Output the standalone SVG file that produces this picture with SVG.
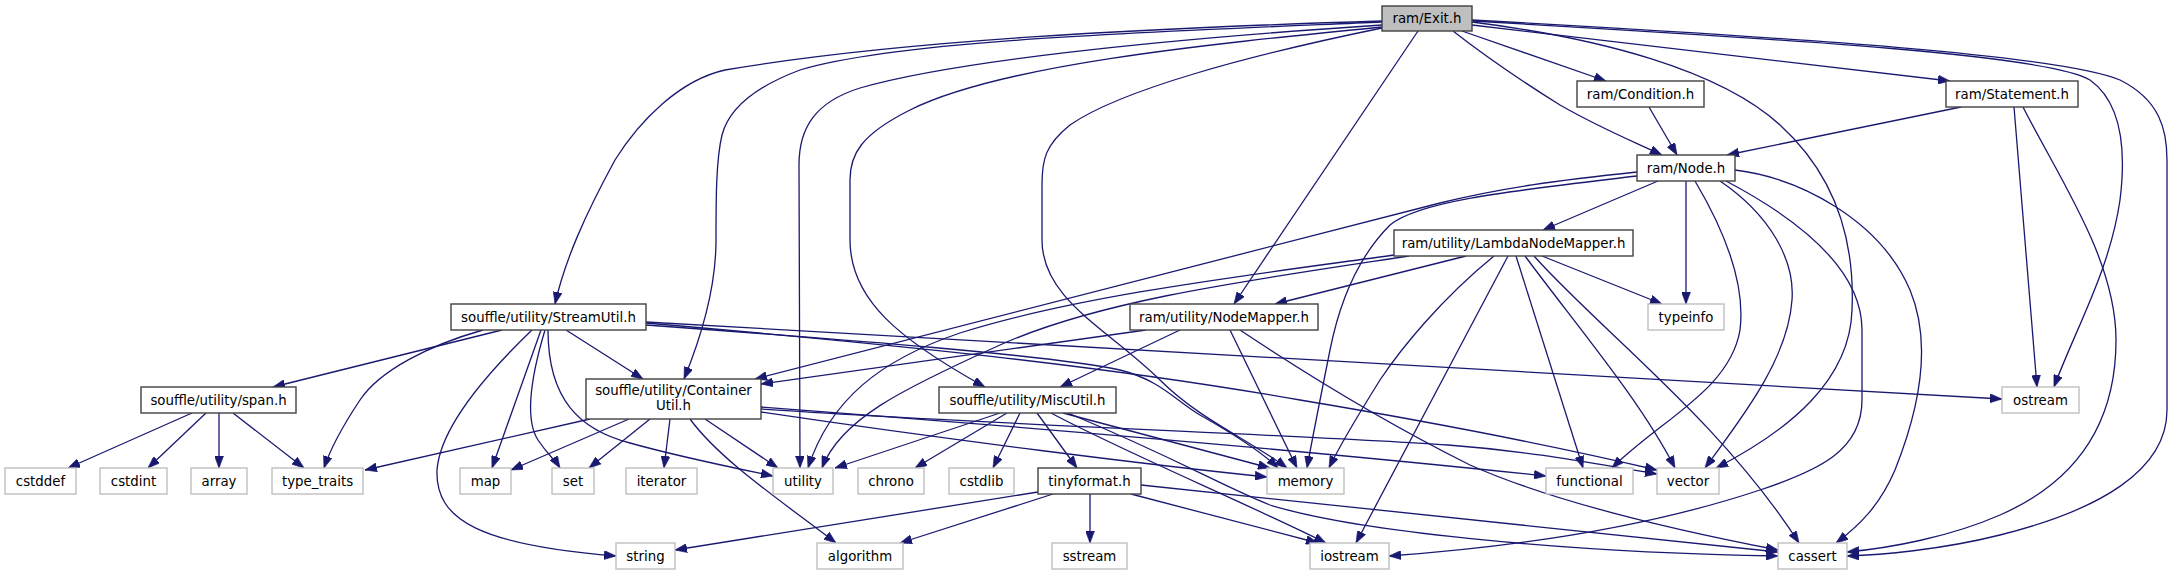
<svg xmlns="http://www.w3.org/2000/svg" width="2173" height="575" viewBox="0 0 2173 575">
<defs>
<marker id="ah" markerWidth="12" markerHeight="9" refX="12" refY="4.5" orient="auto" markerUnits="userSpaceOnUse"><path d="M0,0 L12,4.5 L0,9 z" fill="#191970" stroke="#191970" stroke-width="0.6"/></marker>
<style>
.e path{fill:none;stroke:#191970;stroke-width:1.3;marker-end:url(#ah)}
.n rect{fill:#fff;stroke:#404040;stroke-width:1.4}
.x rect{fill:#fff;stroke:#bfbfbf;stroke-width:1.4}
.cur rect{fill:#bfbfbf;stroke:#404040;stroke-width:1.4}
text{font-family:"DejaVu Sans","Liberation Sans",sans-serif;font-size:13.33px;fill:#000;text-anchor:middle}
</style>
</defs>
<rect width="2173" height="575" fill="#fff"/>
<g id="edges" class="e">
<!-- Exit.h -->
<path d="M1382,21 C1150,28 900,40 725,70 C680,80 640,120 615,160 C585,215 565,260 555,304"/>
<path d="M1382,22 C1150,32 900,40 800,70 C760,85 730,105 722,135 C716,160 716,200 716,240 C716,290 700,340 684,379"/>
<path d="M1382,25 C1150,40 950,62 860,88 C815,102 799,128 799,165 L800,468"/>
<path d="M1382,27 C1200,45 1000,65 910,110 C860,135 850,155 850,180 L850,240 C850,300 900,340 985,387"/>
<path d="M1382,28 C1250,55 1120,90 1070,125 C1045,145 1042,160 1042,185 L1042,240 C1042,300 1110,330 1160,380 C1200,420 1250,440 1287,468"/>
<path d="M1418,31 L1234,304"/>
<path d="M1453,31 C1490,60 1520,80 1560,105 C1600,128 1630,140 1662,155"/>
<path d="M1462,31 L1606,81"/>
<path d="M1472,25 L1950,81"/>
<path d="M1472,22 C1600,38 1720,70 1780,125 C1835,175 1855,240 1852,310 C1850,380 1790,430 1716,468"/>
<path d="M1472,21 C1800,40 2050,55 2090,80 C2125,105 2125,160 2120,200 C2110,270 2075,330 2054,387"/>
<path d="M1472,20 C1800,38 2060,55 2120,80 C2160,100 2167,130 2167,160 L2167,410 C2167,470 2100,510 2000,535 C1940,550 1880,555 1847,556"/>
<!-- Statement.h -->
<path d="M1961,107 L1727,155"/>
<path d="M2014,107 L2037,387"/>
<path d="M2023,107 C2060,180 2116,260 2116,340 C2116,420 2080,480 2000,515 C1950,537 1890,548 1847,552"/>
<!-- Condition.h -->
<path d="M1649,107 L1677,155"/>
<!-- Node.h -->
<path d="M1658,181 L1543,230"/>
<path d="M1686,181 L1686,304"/>
<path d="M1695,181 C1730,240 1745,290 1740,330 C1730,390 1660,420 1612,468"/>
<path d="M1720,181 C1770,215 1795,260 1792,300 C1788,360 1740,420 1705,468"/>
<path d="M1726,181 C1800,220 1862,270 1862,330 L1862,400 C1862,450 1820,470 1760,490 C1640,530 1500,548 1389,556"/>
<path d="M1735,170 C1800,178 1880,220 1910,290 C1935,350 1915,420 1895,470 C1880,505 1860,525 1836,543"/>
<path d="M1637,172 C1560,180 1500,188 1440,203 L755,379"/>
<path d="M1637,176 C1520,190 1420,200 1390,225 C1360,255 1340,300 1330,350 C1320,400 1312,440 1307,468"/>
<!-- LambdaNodeMapper.h -->
<path d="M1466,256 L1275,304"/>
<path d="M1542,256 L1662,304"/>
<path d="M1516,256 L1583,468"/>
<path d="M1525,256 C1580,330 1640,400 1675,468"/>
<path d="M1534,256 C1600,330 1720,420 1799,543"/>
<path d="M1508,256 L1356,543"/>
<path d="M1494,256 C1440,300 1400,350 1380,380 C1355,420 1340,445 1329,468"/>
<path d="M1409,256 C1250,280 1100,300 1000,345 C900,390 840,420 822,468"/>
<path d="M1394,255 C1250,275 1080,295 960,333 C880,360 830,400 808,468"/>
<!-- NodeMapper.h -->
<path d="M1146,330 L761,384"/>
<path d="M1180,330 L1060,387"/>
<path d="M1230,330 L1297,468"/>
<path d="M1240,330 C1330,390 1400,430 1470,465 C1560,505 1700,535 1778,550"/>
<!-- StreamUtil.h -->
<path d="M502,330 L273,387"/>
<path d="M483,330 C430,345 380,370 360,400 C340,430 330,450 324,468"/>
<path d="M532,330 C480,380 440,430 437,470 C435,520 480,545 616,556"/>
<path d="M541,330 L492,468"/>
<path d="M545,330 C530,380 525,420 538,440 C548,455 555,460 560,468"/>
<path d="M548,330 C548,400 580,430 630,443 C680,457 730,467 773,476"/>
<path d="M566,330 L643,379"/>
<path d="M646,325 C850,340 1050,355 1120,370 C1160,380 1175,400 1200,415 C1230,432 1260,450 1278,468"/>
<path d="M646,322 L2002,399"/>
<path d="M646,323 C900,345 1100,365 1300,400 C1450,425 1580,452 1657,470"/>
<!-- span.h -->
<path d="M192,413 L68,468"/>
<path d="M206,413 L148,468"/>
<path d="M219,413 L219,468"/>
<path d="M233,413 L304,468"/>
<!-- ContainerUtil.h -->
<path d="M590,419 L365,470"/>
<path d="M629,419 L511,470"/>
<path d="M650,419 L589,468"/>
<path d="M670,419 L664,468"/>
<path d="M705,419 L778,468"/>
<path d="M690,419 C720,460 780,500 836,543"/>
<path d="M761,412 C950,440 1150,465 1267,477"/>
<path d="M761,407 C1000,425 1300,450 1546,476"/>
<path d="M761,409 C1000,425 1300,435 1448,445 C1540,452 1600,465 1657,474"/>
<!-- MiscUtil.h -->
<path d="M1000,413 L835,468"/>
<path d="M1007,413 L915,468"/>
<path d="M1020,413 L993,468"/>
<path d="M1037,413 L1077,468"/>
<path d="M1051,413 C1120,450 1250,505 1326,543"/>
<path d="M1063,413 L1270,468"/>
<path d="M1068,413 C1180,460 1220,485 1270,505 C1350,530 1550,552 1778,556"/>
<!-- tinyformat.h -->
<path d="M1038,492 L675,550"/>
<path d="M1053,494 L900,543"/>
<path d="M1090,494 L1090,543"/>
<path d="M1131,494 L1318,543"/>
<path d="M1141,485 L1778,552"/>
</g>
<g id="node-exit" class="cur"><rect x="1382" y="6" width="90" height="25"/><text x="1427" y="23">ram/Exit.h</text></g>
<g id="node-condition" class="n"><rect x="1577" y="81" width="127" height="26"/><text x="1640.5" y="98.5">ram/Condition.h</text></g>
<g id="node-statement" class="n"><rect x="1946" y="81" width="132" height="26"/><text x="2012" y="98.5">ram/Statement.h</text></g>
<g id="node-node" class="n"><rect x="1637" y="155" width="98" height="26"/><text x="1686" y="172.5">ram/Node.h</text></g>
<g id="node-lambda" class="n"><rect x="1394" y="230" width="239" height="26"/><text x="1513.5" y="247.5">ram/utility/LambdaNodeMapper.h</text></g>
<g id="node-streamutil" class="n"><rect x="451" y="304" width="195" height="26"/><text x="548.5" y="321.5">souffle/utility/StreamUtil.h</text></g>
<g id="node-nodemapper" class="n"><rect x="1130" y="304" width="188" height="26"/><text x="1224" y="321.5">ram/utility/NodeMapper.h</text></g>
<g id="node-typeinfo" class="x"><rect x="1648" y="304" width="76" height="26"/><text x="1686" y="321.5">typeinfo</text></g>
<g id="node-span" class="n"><rect x="141" y="387" width="155" height="26"/><text x="218.5" y="404.5">souffle/utility/span.h</text></g>
<g id="node-containerutil" class="n"><rect x="586" y="379" width="175" height="40"/><text x="673.5" y="394.5">souffle/utility/Container</text><text x="673.5" y="409.5">Util.h</text></g>
<g id="node-miscutil" class="n"><rect x="939" y="387" width="177" height="26"/><text x="1027.5" y="404.5">souffle/utility/MiscUtil.h</text></g>
<g id="node-ostream" class="x"><rect x="2002" y="387" width="77" height="26"/><text x="2040.5" y="404.5">ostream</text></g>
<g id="node-cstddef" class="x"><rect x="5" y="468" width="71" height="26"/><text x="40.5" y="485.5">cstddef</text></g>
<g id="node-cstdint" class="x"><rect x="100" y="468" width="67" height="26"/><text x="133.5" y="485.5">cstdint</text></g>
<g id="node-array" class="x"><rect x="191" y="468" width="56" height="26"/><text x="219" y="485.5">array</text></g>
<g id="node-type_traits" class="x"><rect x="272" y="468" width="91" height="26"/><text x="317.5" y="485.5">type_traits</text></g>
<g id="node-map" class="x"><rect x="460" y="468" width="51" height="26"/><text x="485.5" y="485.5">map</text></g>
<g id="node-set" class="x"><rect x="552" y="468" width="42" height="26"/><text x="573" y="485.5">set</text></g>
<g id="node-iterator" class="x"><rect x="626" y="468" width="71" height="26"/><text x="661.5" y="485.5">iterator</text></g>
<g id="node-utility" class="x"><rect x="773" y="468" width="60" height="26"/><text x="803" y="485.5">utility</text></g>
<g id="node-chrono" class="x"><rect x="858" y="468" width="66" height="26"/><text x="891" y="485.5">chrono</text></g>
<g id="node-cstdlib" class="x"><rect x="949" y="468" width="65" height="26"/><text x="981.5" y="485.5">cstdlib</text></g>
<g id="node-tinyformat" class="n"><rect x="1038" y="468" width="103" height="26"/><text x="1089.5" y="485.5">tinyformat.h</text></g>
<g id="node-memory" class="x"><rect x="1267" y="468" width="77" height="26"/><text x="1305.5" y="485.5">memory</text></g>
<g id="node-functional" class="x"><rect x="1546" y="468" width="87" height="26"/><text x="1589.5" y="485.5">functional</text></g>
<g id="node-vector" class="x"><rect x="1657" y="468" width="62" height="26"/><text x="1688" y="485.5">vector</text></g>
<g id="node-string" class="x"><rect x="616" y="543" width="59" height="26"/><text x="645.5" y="560.5">string</text></g>
<g id="node-algorithm" class="x"><rect x="817" y="543" width="86" height="26"/><text x="860" y="560.5">algorithm</text></g>
<g id="node-sstream" class="x"><rect x="1052" y="543" width="75" height="26"/><text x="1089.5" y="560.5">sstream</text></g>
<g id="node-iostream" class="x"><rect x="1310" y="543" width="79" height="26"/><text x="1349.5" y="560.5">iostream</text></g>
<g id="node-cassert" class="x"><rect x="1778" y="543" width="69" height="26"/><text x="1812.5" y="560.5">cassert</text></g>
</svg>
